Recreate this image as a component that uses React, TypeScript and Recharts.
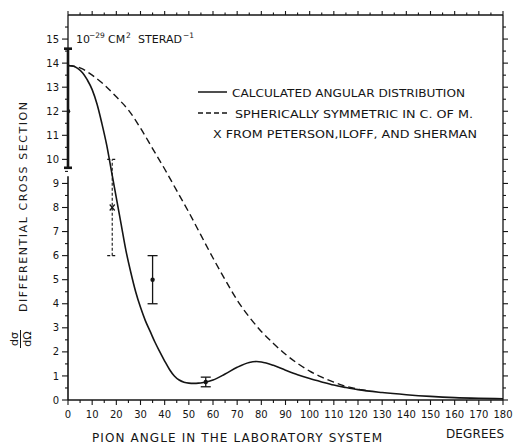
import React from 'react';
import { ComposedChart, Line, Scatter, XAxis, YAxis, ErrorBar, ReferenceLine } from 'recharts';

// Calculated angular distribution (solid)
const calcAngles = [0, 2, 4, 6, 8, 10, 12, 14, 16, 18, 20, 22, 24, 26, 28, 30, 32, 34, 36, 38, 40, 42, 44, 46, 48, 50, 52, 54, 56, 58, 60, 65, 70, 75, 78, 80, 85, 90, 95, 100, 105, 110, 115, 120, 130, 140, 150, 160, 170, 180];
const calcValues = [13.9, 13.88, 13.78, 13.6, 13.3, 12.9, 12.3, 11.5, 10.6, 9.5, 8.4, 7.3, 6.2, 5.3, 4.5, 3.85, 3.3, 2.85, 2.4, 2.0, 1.62, 1.27, 1.0, 0.83, 0.74, 0.7, 0.69, 0.7, 0.73, 0.77, 0.83, 1.08, 1.36, 1.56, 1.6, 1.58, 1.44, 1.24, 1.05, 0.89, 0.75, 0.62, 0.52, 0.43, 0.31, 0.22, 0.15, 0.1, 0.07, 0.05];

// Spherically symmetric in C. of M. (dashed)
const symAngles = [0, 5, 10, 15, 20, 25, 30, 35, 40, 45, 50, 55, 60, 65, 70, 75, 80, 85, 90, 95, 100, 105, 110, 115, 120, 125];
const symValues = [13.9, 13.8, 13.5, 13.1, 12.6, 12.05, 11.3, 10.45, 9.6, 8.7, 7.8, 6.85, 5.9, 5.0, 4.15, 3.45, 2.85, 2.35, 1.9, 1.52, 1.2, 0.95, 0.74, 0.57, 0.45, 0.37];

// Measured points with error bars
const axisPointAngles = [0];
const axisPointValues = [12];
const axisPointLow = [9.65];
const axisPointHigh = [14.6];

const measAngles = [35, 57];
const measValues = [5, 0.75];
const measLow = [4, 0.55];
const measHigh = [6, 0.95];

// Peterson, Iloff, and Sherman
const pisAngles = [18.3];
const pisValues = [8];
const pisLow = [6];
const pisHigh = [10];

const xTickValues = [0, 5, 10, 15, 20, 25, 30, 35, 40, 45, 50, 55, 60, 65, 70, 75, 80, 85, 90, 95, 100, 105, 110, 115, 120, 125, 130, 135, 140, 145, 150, 155, 160, 165, 170, 175, 180];
const xTickLabels = ['0', '10', '20', '30', '40', '50', '60', '70', '80', '90', '100', '110', '120', '130', '140', '150', '160', '170', '180'];
const yTickValues = [0, 0.5, 1, 1.5, 2, 2.5, 3, 3.5, 4, 4.5, 5, 5.5, 6, 6.5, 7, 7.5, 8, 8.5, 9, 9.5, 10, 10.5, 11, 11.5, 12, 12.5, 13, 13.5, 14, 14.5, 15, 15.5];
const yTickLabels = ['0', '1', '2', '3', '4', '5', '6', '7', '8', '9', '10', '11', '12', '13', '14', '15'];

const calcData = calcAngles.map((a, i) => ({ x: a, y: calcValues[i] }));
const symData = symAngles.map((a, i) => ({ x: a, y: symValues[i] }));
const axisPointData = axisPointAngles.map((a, i) => ({ x: a, y: axisPointValues[i], err: [axisPointValues[i] - axisPointLow[i], axisPointHigh[i] - axisPointValues[i]] }));
const measData = measAngles.map((a, i) => ({ x: a, y: measValues[i], err: [measValues[i] - measLow[i], measHigh[i] - measValues[i]] }));
const pisData = pisAngles.map((a, i) => ({ x: a, y: pisValues[i], err: [pisValues[i] - pisLow[i], pisHigh[i] - pisValues[i]] }));

const INK = '#151515';
const FONT = '"DejaVu Sans", sans-serif';

const BottomTick = (props: any) => {
  const { x, y, payload } = props;
  const label = String(payload.value);
  const major = xTickLabels.includes(label);
  return (
    <g>
      <line x1={x} x2={x} y1={y} y2={y + (major ? 5 : 3)} stroke={INK} strokeWidth={1.1} />
      {major && (
        <text x={x} y={y + 18} textAnchor="middle" fontSize={10} fontFamily={FONT} fill={INK}>{label}</text>
      )}
    </g>
  );
};

const TopTick = (props: any) => {
  const { x, y, payload } = props;
  const major = xTickLabels.includes(String(payload.value));
  return <line x1={x} x2={x} y1={y} y2={y - (major ? 4 : 2.5)} stroke={INK} strokeWidth={1.1} />;
};

const LeftTick = (props: any) => {
  const { x, y, payload } = props;
  const label = String(payload.value);
  const major = yTickLabels.includes(label);
  return (
    <g>
      <line x1={x - (major ? 6 : 3)} x2={x} y1={y} y2={y} stroke={INK} strokeWidth={1.1} />
      {major && (
        <text x={x - 9} y={y + 3.6} textAnchor="end" fontSize={10} fontFamily={FONT} fill={INK}>{label}</text>
      )}
    </g>
  );
};

const RightTick = (props: any) => {
  const { x, y, payload } = props;
  const major = yTickLabels.includes(String(payload.value));
  return <line x1={x} x2={x + (major ? 5 : 3)} y1={y} y2={y} stroke={INK} strokeWidth={1.1} />;
};

const DotShape = (p: any) => <circle cx={p.cx} cy={p.cy} r={2.2} fill={INK} />;
const CrossShape = (p: any) => (
  <g stroke={INK} strokeWidth={1.2}>
    <line x1={p.cx - 2.5} y1={p.cy - 3} x2={p.cx + 2.5} y2={p.cy + 3} />
    <line x1={p.cx - 2.5} y1={p.cy + 3} x2={p.cx + 2.5} y2={p.cy - 3} />
  </g>
);

export default function App() {
  return (
    <div style={{ position: 'absolute', left: 0, top: 0, width: 515, height: 444, background: '#fff' }}>
      <ComposedChart width={515} height={444} margin={{ top: 0, right: 0, bottom: 0, left: 0 }}>
        <XAxis xAxisId="b" type="number" dataKey="x" domain={[0, 180]} ticks={xTickValues} interval={0}
          orientation="bottom" height={44} tickSize={0} tickMargin={0} tick={<BottomTick />}
          axisLine={{ stroke: INK, strokeWidth: 1.5 }} tickLine={false} allowDataOverflow />
        <XAxis xAxisId="t" type="number" dataKey="x" domain={[0, 180]} ticks={xTickValues} interval={0}
          orientation="top" height={15} tickSize={0} tickMargin={0} tick={<TopTick />}
          axisLine={{ stroke: INK, strokeWidth: 1.3 }} tickLine={false} allowDataOverflow />
        <YAxis yAxisId="l" type="number" dataKey="y" domain={[0, 16]} ticks={yTickValues} interval={0}
          orientation="left" width={68} tickSize={0} tickMargin={0} tick={<LeftTick />}
          axisLine={false} tickLine={false} allowDataOverflow />
        <YAxis yAxisId="r" type="number" dataKey="y" domain={[0, 16]} ticks={yTickValues} interval={0}
          orientation="right" width={12} tickSize={0} tickMargin={0} tick={<RightTick />}
          axisLine={{ stroke: INK, strokeWidth: 1.3 }} tickLine={false} allowDataOverflow />

        <ReferenceLine xAxisId="b" yAxisId="l" segment={[{ x: 0, y: 0 }, { x: 0, y: 9.3 }]} stroke={INK} strokeWidth={1.6} ifOverflow="visible" />
        <ReferenceLine xAxisId="b" yAxisId="l" segment={[{ x: 0, y: 9.65 }, { x: 0, y: 16 }]} stroke={INK} strokeWidth={1.3} ifOverflow="visible" />

        <Line xAxisId="t" yAxisId="r" data={calcData} dataKey="y" stroke="none" dot={false} activeDot={false} isAnimationActive={false} legendType="none" />

        <Line xAxisId="b" yAxisId="l" data={symData} dataKey="y" type="monotone" stroke={INK} strokeWidth={1.4}
          strokeDasharray="7 4" dot={false} activeDot={false} isAnimationActive={false} />
        <Line xAxisId="b" yAxisId="l" data={calcData} dataKey="y" type="monotone" stroke={INK} strokeWidth={1.6}
          dot={false} activeDot={false} isAnimationActive={false} />

        <Scatter xAxisId="b" yAxisId="l" data={axisPointData} dataKey="y" shape={DotShape} isAnimationActive={false}>
          <ErrorBar dataKey="err" direction="y" width={4} stroke={INK} strokeWidth={2.6} isAnimationActive={false} />
        </Scatter>
        <Scatter xAxisId="b" yAxisId="l" data={measData} dataKey="y" shape={DotShape} isAnimationActive={false}>
          <ErrorBar dataKey="err" direction="y" width={5} stroke={INK} strokeWidth={1.3} isAnimationActive={false} />
        </Scatter>
        <Scatter xAxisId="b" yAxisId="l" data={pisData} dataKey="y" shape={CrossShape} isAnimationActive={false}>
          <ErrorBar dataKey="err" direction="y" width={5} stroke={INK} strokeWidth={1.1} strokeDasharray="3 2" isAnimationActive={false} />
        </Scatter>
      </ComposedChart>

      <svg width={515} height={444} style={{ position: 'absolute', left: 0, top: 0, pointerEvents: 'none' }}
        fontFamily={FONT} fill={INK}>
        {/* units */}
        <text x={76} y={43} fontSize={11}>10</text>
        <text x={89} y={37.5} fontSize={7.5}>−29</text>
        <text x={108} y={43} fontSize={11}>CM</text>
        <text x={126} y={37.5} fontSize={7.5}>2</text>
        <text x={138} y={43} fontSize={11} textLength={44} lengthAdjust="spacingAndGlyphs">STERAD</text>
        <text x={183} y={37.5} fontSize={7.5}>−1</text>

        {/* legend */}
        <line x1={198} x2={227} y1={92} y2={92} stroke={INK} strokeWidth={1.5} />
        <text x={232} y={96.5} fontSize={11} textLength={233} lengthAdjust="spacingAndGlyphs">CALCULATED ANGULAR DISTRIBUTION</text>
        <line x1={198} x2={227} y1={113} y2={113} stroke={INK} strokeWidth={1.4} strokeDasharray="5 3" />
        <text x={235} y={117.5} fontSize={11} textLength={238} lengthAdjust="spacingAndGlyphs">SPHERICALLY SYMMETRIC IN C. OF M.</text>
        <text x={213} y={137.5} fontSize={11} textLength={264} lengthAdjust="spacingAndGlyphs">X FROM PETERSON,ILOFF, AND SHERMAN</text>

        {/* axis titles */}
        <text x={92} y={442} fontSize={12} textLength={290} lengthAdjust="spacing">PION ANGLE IN THE LABORATORY SYSTEM</text>
        <text x={446} y={438} fontSize={12} textLength={58} lengthAdjust="spacing">DEGREES</text>
        <text x={27} y={312} fontSize={11} transform="rotate(-90 27 312)" textLength={210} lengthAdjust="spacing">DIFFERENTIAL CROSS SECTION</text>
        <text x={18} y={339} fontSize={11} textAnchor="middle" transform="rotate(-90 18 339)">dσ</text>
        <line x1={20.5} x2={20.5} y1={330} y2={348} stroke={INK} strokeWidth={1} />
        <text x={31} y={339} fontSize={11} textAnchor="middle" transform="rotate(-90 31 339)">dΩ</text>
      </svg>
    </div>
  );
}
